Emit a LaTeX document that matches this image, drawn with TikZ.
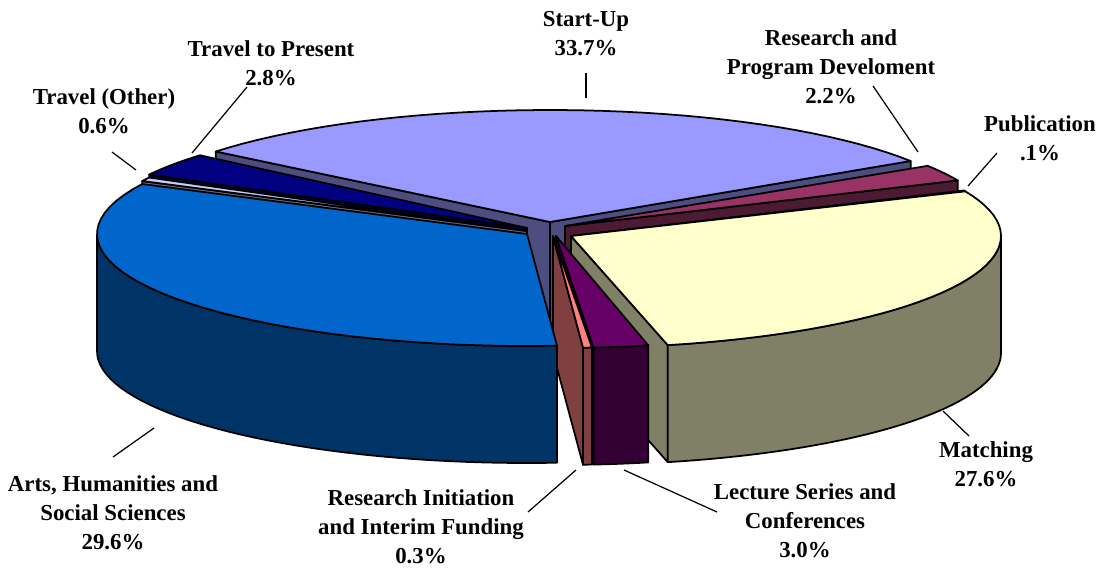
\documentclass[tikz,border=0pt]{standalone}
\usepackage{fontspec}
\setmainfont{Liberation Serif}

\definecolor{startup}{HTML}{9999FF}
\definecolor{startupside}{HTML}{4D4D80}
\definecolor{rpd}{HTML}{993366}
\definecolor{rpdside}{HTML}{4D1A33}
\definecolor{pub}{HTML}{CCFFFF}
\definecolor{pubside}{HTML}{668080}
\definecolor{matching}{HTML}{FFFFCC}
\definecolor{matchingside}{HTML}{808066}
\definecolor{lecture}{HTML}{660066}
\definecolor{lectureside}{HTML}{330033}
\definecolor{rinit}{HTML}{FF8080}
\definecolor{rinitside}{HTML}{804040}
\definecolor{arts}{HTML}{0066CC}
\definecolor{artsside}{HTML}{003366}
\definecolor{travother}{HTML}{CCCCFF}
\definecolor{travotherside}{HTML}{666680}
\definecolor{travpres}{HTML}{000080}
\definecolor{travpresside}{HTML}{000040}

\def\pieA{430}
\def\pieB{112}
\def\pieH{117}

\tikzset{
  slice/.style={draw=black,line width=1pt,line join=round},
  lbl/.style={font=\bfseries\fontsize{13}{16.5}\selectfont,align=center,inner sep=0pt},
  leader/.style={line width=0.7pt}
}

% #1,#2 tip, #3 to #4 angles, #5 top colour, #6 side colour
\newcommand{\pieslice}[6]{%
  \pgfmathtruncatemacro\faceA{cos(#3)>0}
  \pgfmathtruncatemacro\faceB{cos(#4)<0}
  \ifnum\faceA=1
    \filldraw[slice,fill=#6] (#1,#2) -- ({#1+\pieA*cos(#3)},{#2-\pieB*sin(#3)})
      -- ++(0,\pieH) -- (#1,#2+\pieH) -- cycle;
  \fi
  \ifnum\faceB=1
    \filldraw[slice,fill=#6] (#1,#2) -- ({#1+\pieA*cos(#4)},{#2-\pieB*sin(#4)})
      -- ++(0,\pieH) -- (#1,#2+\pieH) -- cycle;
  \fi
  \pgfmathsetmacro\wallA{max(#3,180)}
  \pgfmathsetmacro\wallB{min(#4,360)}
  \pgfmathtruncatemacro\wallOn{\wallA<\wallB}
  \ifnum\wallOn=1
    \filldraw[slice,fill=#6] plot[domain=\wallA:\wallB,samples=40] ({#1+\pieA*cos(\x)},{#2-\pieB*sin(\x)})
      -- plot[domain=\wallB:\wallA,samples=40] ({#1+\pieA*cos(\x)},{#2-\pieB*sin(\x)+\pieH}) -- cycle;
  \fi
  \filldraw[slice,fill=#5] (#1,#2) -- plot[domain=#3:#4,samples=40] ({#1+\pieA*cos(\x)},{#2-\pieB*sin(\x)}) -- cycle;
}

\begin{document}
\begin{tikzpicture}[x=0.02cm,y=-0.02cm]
  \useasboundingbox (0,0) rectangle (1101,569);
  % back slices first
  \pieslice{550}{222}{33}{141}{startup}{startupside}
  \pieslice{565}{226}{24}{32.5}{rpd}{rpdside}
  \pieslice{571}{236}{23.5}{24}{pub}{pubside}
  \pieslice{527}{228}{139.5}{151.5}{travpres}{travpresside}
  \pieslice{527}{231}{151.5}{153.5}{travother}{travotherside}
  \pieslice{571}{236}{283}{383.5}{matching}{matchingside}
  \pieslice{556}{236}{275}{282.4}{lecture}{lectureside}
  \pieslice{553}{236}{274}{275.2}{rinit}{rinitside}
  \pieslice{527}{234}{153.5}{274}{arts}{artsside}

  % labels
  \node[lbl] (startuplbl) at (586,34) {Start-Up\\33.7\%};
  \node[lbl] (rpdlbl) at (831,67) {Research and\\Program Develoment\\2.2\%};
  \node[lbl] (publbl) at (1040,138) {Publication\\.1\%};
  \node[lbl] (matchinglbl) at (986,464) {Matching\\27.6\%};
  \node[lbl] (lecturelbl) at (805,521) {Lecture Series and\\Conferences\\3.0\%};
  \node[lbl] (rinitlbl) at (421,527) {Research Initiation\\and Interim Funding\\0.3\%};
  \node[lbl] (artslbl) at (113,513) {Arts, Humanities and\\Social Sciences\\29.6\%};
  \node[lbl] (travotherlbl) at (104,111) {Travel (Other)\\0.6\%};
  \node[lbl] (travpreslbl) at (271,63) {Travel to Present\\2.8\%};

  % leader lines
  \coordinate (su1) at (586,73);   \coordinate (su2) at (586,98);
  \coordinate (rp1) at (873,86);   \coordinate (rp2) at (918,152);
  \coordinate (pb1) at (997,153);  \coordinate (pb2) at (968,186);
  \coordinate (ma1) at (943,411);  \coordinate (ma2) at (969,436);
  \coordinate (le1) at (624,470);  \coordinate (le2) at (717,512);
  \coordinate (ri1) at (576,470);  \coordinate (ri2) at (528,512);
  \coordinate (ar1) at (154,428);  \coordinate (ar2) at (113,457);
  \coordinate (to1) at (112,152);  \coordinate (to2) at (136,170);
  \coordinate (tp1) at (247,87);   \coordinate (tp2) at (192,153);
  \draw[leader] (su1) -- (su2);
  \draw[leader] (rp1) -- (rp2);
  \draw[leader] (pb1) -- (pb2);
  \draw[leader] (ma1) -- (ma2);
  \draw[leader] (le1) -- (le2);
  \draw[leader] (ri1) -- (ri2);
  \draw[leader] (ar1) -- (ar2);
  \draw[leader] (to1) -- (to2);
  \draw[leader] (tp1) -- (tp2);
\end{tikzpicture}
\end{document}
